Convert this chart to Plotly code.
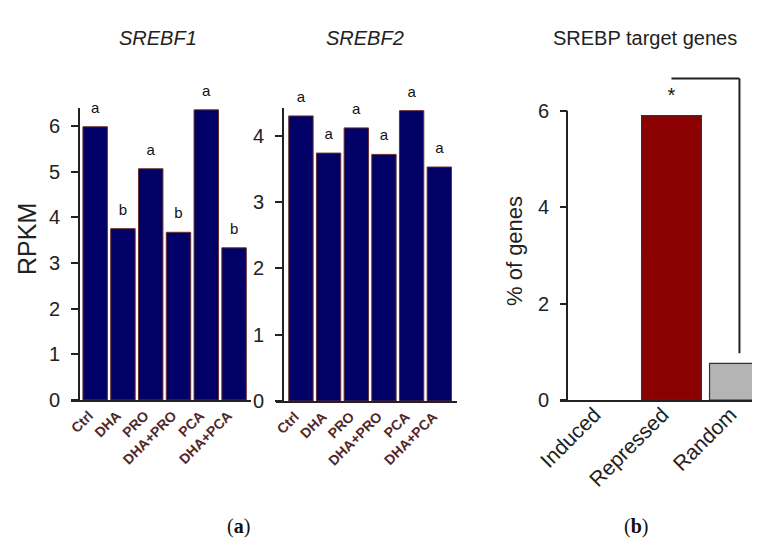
import plotly.graph_objects as go

# ---------------- data ----------------
treatments = ["Ctrl", "DHA", "PRO", "DHA+PRO", "PCA", "DHA+PCA"]
srebf1_rpkm = [5.98, 3.75, 5.06, 3.67, 6.35, 3.33]
srebf1_letters = ["a", "b", "a", "b", "a", "b"]
srebf2_rpkm = [4.30, 3.74, 4.12, 3.72, 4.38, 3.53]
srebf2_letters = ["a", "a", "a", "a", "a", "a"]

gene_sets = ["Induced", "Repressed", "Random"]
pct_genes = [0.0, 5.90, 0.76]
pct_marks = ["", "*", ""]
bracket_y = 6.67   # bracket top (percent scale)
bracket_end = 0.97

W, H = 760, 540
FONT = "Liberation Sans, Arial, sans-serif"


def fx(px):
    return px / W


def fy(py):
    return (H - py) / H


NAVY = "#000066"
OUTLINE = "#6b3030"
TICKCOL = "#502828"

fig = go.Figure()

fig.add_trace(go.Bar(
    x=treatments, y=srebf1_rpkm,
    marker=dict(color=NAVY, line=dict(color=OUTLINE, width=1)),
    xaxis="x", yaxis="y", showlegend=False, hoverinfo="x+y"))
fig.add_trace(go.Scatter(
    x=treatments, y=srebf1_rpkm, text=srebf1_letters, mode="markers+text",
    textposition="top center", marker=dict(size=15, opacity=0), cliponaxis=False,
    textfont=dict(size=15, color="#111", family=FONT),
    xaxis="x", yaxis="y", showlegend=False, hoverinfo="skip"))

fig.add_trace(go.Bar(
    x=treatments, y=srebf2_rpkm,
    marker=dict(color=NAVY, line=dict(color=OUTLINE, width=1)),
    xaxis="x2", yaxis="y2", showlegend=False, hoverinfo="x+y"))
fig.add_trace(go.Scatter(
    x=treatments, y=srebf2_rpkm, text=srebf2_letters, mode="markers+text",
    textposition="top center", marker=dict(size=15, opacity=0), cliponaxis=False,
    textfont=dict(size=15, color="#111", family=FONT),
    xaxis="x2", yaxis="y2", showlegend=False, hoverinfo="skip"))

fig.add_trace(go.Bar(
    x=gene_sets, y=pct_genes,
    marker=dict(color=["#ffffff", "#8b0000", "#b4b4b4"],
                line=dict(color="#333333", width=[0, 1.2, 1.2])),
    xaxis="x3", yaxis="y3", showlegend=False, hoverinfo="x+y"))
fig.add_trace(go.Scatter(
    x=gene_sets, y=pct_genes, text=pct_marks, mode="markers+text",
    textposition="top center", marker=dict(size=12, opacity=0), cliponaxis=False,
    textfont=dict(size=20, color="#111", family=FONT),
    xaxis="x3", yaxis="y3", showlegend=False, hoverinfo="skip"))

axis_common = dict(showgrid=False, zeroline=False, linecolor="#222", linewidth=2)

fig.update_layout(
    width=W, height=H,
    margin=dict(l=0, r=0, t=0, b=0),
    paper_bgcolor="white", plot_bgcolor="white",
    font=dict(family=FONT, color="#222"),
    bargap=0.12,
    xaxis=dict(domain=[fx(62.7), fx(243.3)], range=[-0.88, 5.62], showline=True,
               anchor="y", tickangle=-45, ticks="", ticklabelstandoff=0, ticklabelshift=-6,
               tickfont=dict(size=14, color=TICKCOL, family=FONT, weight="bold"),
               automargin=False, **axis_common),
    yaxis=dict(domain=[fy(392), fy(100)], range=[0, 6.39], showline=True,
               anchor="free", position=fx(71), ticks="outside", ticklen=7, tickwidth=2,
               tickcolor="#222", tickvals=[0, 1, 2, 3, 4, 5, 6], ticklabelstandoff=7,
               tickfont=dict(size=20, color="#222"), automargin=False, **axis_common),
    xaxis2=dict(domain=[fx(268.3), fx(449.3)], range=[-0.89, 5.65], showline=True,
                anchor="y2", tickangle=-45, ticks="", ticklabelstandoff=0, ticklabelshift=-6,
                tickfont=dict(size=14, color=TICKCOL, family=FONT, weight="bold"),
                automargin=False, **axis_common),
    yaxis2=dict(domain=[fy(393), fy(100)], range=[0, 4.42], showline=True,
                anchor="free", position=fx(275), ticks="outside", ticklen=7, tickwidth=2,
                tickcolor="#222", tickvals=[0, 1, 2, 3, 4], ticklabelstandoff=7,
                tickfont=dict(size=20, color="#222"), automargin=False, **axis_common),
    xaxis3=dict(domain=[fx(552), fx(760)], range=[-0.64, 2.42], showline=True,
                anchor="y3", tickangle=-45, ticks="", ticklabelstandoff=-8, ticklabelshift=-9,
                tickfont=dict(size=21, color="#222"), automargin=False, **axis_common),
    yaxis3=dict(domain=[fy(392), fy(392 - 6.75 * 48.2)], range=[0, 6.75], showline=False,
                anchor="free", position=fx(559), ticks="outside", ticklen=7, tickwidth=2,
                tickcolor="#222", tickvals=[0, 2, 4, 6], ticklabelstandoff=7,
                tickfont=dict(size=20, color="#222"), automargin=False,
                showgrid=False, zeroline=False),
)

# y-axis line of panel b (stops at the top tick)
x3_axis_pos = -0.64 + (559 - 552) / 68.0
fig.add_shape(type="line", xref="x3", yref="y3", x0=x3_axis_pos, x1=x3_axis_pos,
              y0=0, y1=6, line=dict(color="#222", width=2))

# significance bracket between Repressed and Random
fig.add_shape(type="line", xref="x3", yref="y3", x0=gene_sets[1], x1=gene_sets[2],
              y0=bracket_y, y1=bracket_y, line=dict(color="#222", width=2))
fig.add_shape(type="line", xref="x3", yref="y3", x0=gene_sets[2], x1=gene_sets[2],
              y0=bracket_y, y1=bracket_end, line=dict(color="#222", width=2))

ann = [
    dict(text="<i>SREBF1</i>", x=fx(150), y=fy(30), size=20),
    dict(text="<i>SREBF2</i>", x=fx(357), y=fy(30), size=20),
    dict(text="SREBP target genes", x=fx(637), y=fy(30), size=20),
]
for a in ann:
    fig.add_annotation(text=a["text"], x=a["x"], y=a["y"], xref="paper", yref="paper",
                       showarrow=False, xanchor="center", yanchor="middle",
                       font=dict(size=a["size"], color="#222", family=FONT))

fig.add_annotation(text="RPKM", x=fx(19), y=fy(231), xref="paper", yref="paper",
                   showarrow=False, textangle=-90, xanchor="center", yanchor="middle",
                   font=dict(size=25, color="#222", family=FONT))
fig.add_annotation(text="% of genes", x=fx(507), y=fy(243), xref="paper", yref="paper",
                   showarrow=False, textangle=-90, xanchor="center", yanchor="middle",
                   font=dict(size=22, color="#222", family=FONT))

for lab, xc in (("a", 230), ("b", 628)):
    fig.add_annotation(text="(<b>" + lab + "</b>)", x=fx(xc), y=fy(518), xref="paper",
                       yref="paper", showarrow=False, xanchor="center", yanchor="middle",
                       font=dict(size=20, color="#111", family="Liberation Serif, Times New Roman, serif"))

fig.write_html("out.html")
